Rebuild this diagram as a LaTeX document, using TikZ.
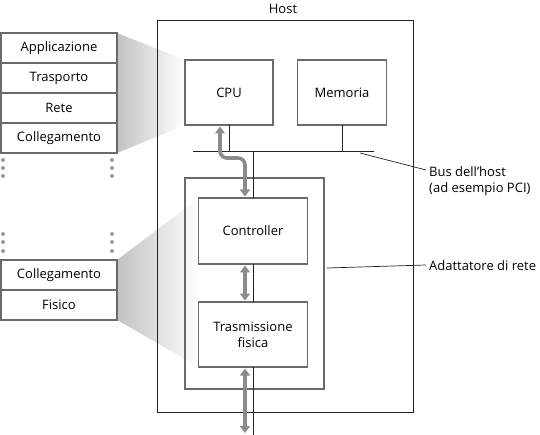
\documentclass[tikz,border=0pt]{standalone}
\usepackage{fontspec}
\setmainfont{Open Sans}
\usetikzlibrary{arrows.meta}
\definecolor{boxgray}{HTML}{6A6A6A}
\definecolor{arrgray}{HTML}{8C8C8C}
\definecolor{dotgray}{HTML}{9A9A9A}
\definecolor{linek}{HTML}{222222}
\begin{document}
\begin{tikzpicture}[x=1pt,y=-1pt,
  font=\fontsize{13}{16}\selectfont,
  layerbox/.style={draw=boxgray,line width=1.1pt,minimum width=116pt,minimum height=30pt,inner sep=0pt,outer sep=0pt},
  unitbox/.style={draw=boxgray,fill=white,line width=1.1pt,inner sep=0pt,outer sep=0pt,align=center},
  frame/.style={draw=linek,line width=0.9pt},
  busline/.style={draw=linek,line width=1pt},
  dbl/.style={draw=arrgray,line width=3.6pt,{Triangle[length=7pt,width=10pt]}-{Triangle[length=7pt,width=10pt]}},
  leader/.style={draw=linek,line width=0.7pt},
  wedge/.style={left color=black!24,right color=white,draw=none}
]
\useasboundingbox (0,0) rectangle (540,435);

% shaded wedges
\shade[wedge] (117,33) -- (185,60) -- (185,125) -- (117,153) -- cycle;
\shade[wedge] (117,260) -- (199,198) -- (199,367) -- (117,320) -- cycle;

% left stacks
\node[layerbox] (app) at (59,48) {Applicazione};
\node[layerbox] (tra4) at (59,78) {Trasporto};
\node[layerbox] (ret) at (59,108) {Rete};
\node[layerbox] (col) at (59,138) {Collegamento};
\node[layerbox] (col2) at (59,275) {Collegamento};
\node[layerbox] (fis) at (59,305) {Fisico};

\foreach \yy in {160,168,176,234,242,251}{
  \fill[dotgray] (3,\yy) circle (2pt);
  \fill[dotgray] (112,\yy) circle (2pt);
}

% host frame
\draw[frame] (157,20) rectangle (413,412);
\node (hostlbl) at (283,9) {Host};

% adapter frame
\draw[frame,draw=boxgray,line width=1.1pt] (185,178) rectangle (324,389);

% units
\node[unitbox,minimum width=88pt,minimum height=65pt] (cpu) at (229,92.5) {CPU};
\node[unitbox,minimum width=89pt,minimum height=65pt] (mem) at (342,92.5) {Memoria};
\node[unitbox,minimum width=109pt,minimum height=66pt] (ctrl) at (253,231) {Controller};
\node[unitbox,minimum width=109pt,minimum height=65pt] (phy) at (253,334.5) {Trasmissione\\fisica};

% bus
\coordinate (busL) at (193,152);
\coordinate (busR) at (374,152);
\coordinate (busJ) at (253,152);
\coordinate (netEnd) at (253,435);
\draw[busline] (busL) -- (busR);
\draw[busline] (cpu.south) -- (cpu.south |- busL);
\draw[busline] (mem.south) -- (mem.south |- busL);
\draw[busline] (busJ) -- (ctrl.north);
\draw[busline] (ctrl.south) -- (phy.north);
\draw[busline] (phy.south) -- (netEnd);

% data arrows
\coordinate (bend) at (245,158);
\coordinate (arrEnd) at (245,433);
\draw[dbl,rounded corners=7pt] ([xshift=-9pt,yshift=-1.5pt]cpu.south) |- (bend) -- ([xshift=-8pt,yshift=1.5pt]ctrl.north);
\draw[dbl] ([xshift=-8pt,yshift=-1.5pt]ctrl.south) -- ([xshift=-8pt,yshift=1.5pt]phy.north);
\draw[dbl] ([xshift=-8pt,yshift=-1.5pt]phy.south) -- (arrEnd);

% labels
\coordinate (busLeadA) at (360,153);
\coordinate (busLeadB) at (426,170);
\draw[leader] (busLeadA) -- (busLeadB);
\node[anchor=west,align=left,inner sep=1pt] (buslbl) at (428,181) {Bus dell’host\\(ad esempio PCI)};
\coordinate (adLeadA) at (327,268);
\coordinate (adLeadB) at (426,265);
\draw[leader] (adLeadA) -- (adLeadB);
\node[anchor=west,inner sep=1pt] (adlbl) at (428,266) {Adattatore di rete};
\end{tikzpicture}
\end{document}
